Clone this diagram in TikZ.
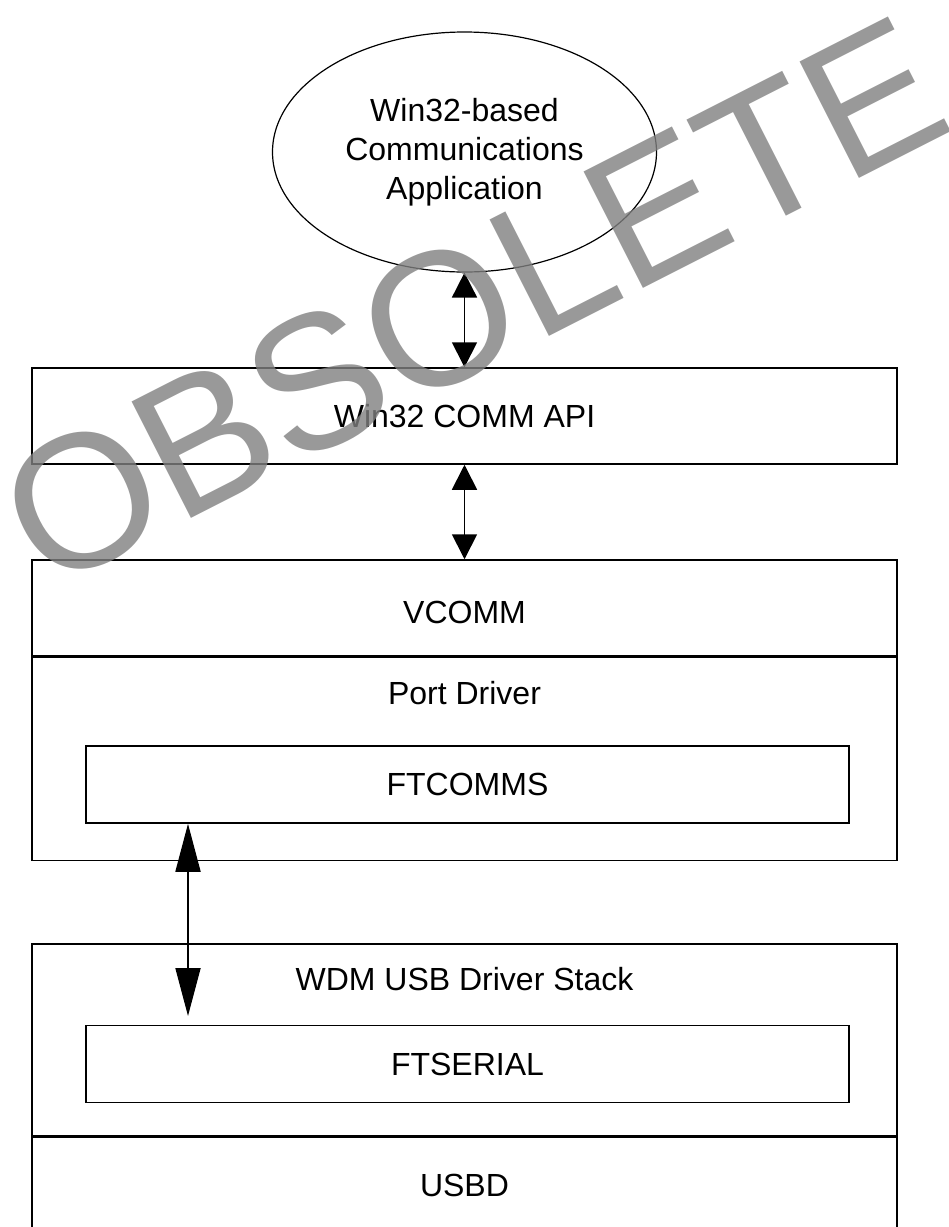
\documentclass[tikz,border=0pt]{standalone}
\usepackage{fontspec}
\setmainfont{Liberation Sans}
\usetikzlibrary{arrows.meta,positioning,shapes.geometric}

\tikzset{
  layer/.style={draw, line width=1.5pt, minimum width=865pt, inner sep=0pt, font=\fontsize{32}{39}\selectfont},
  inbox/.style={draw, line width=1.5pt, minimum width=763pt, minimum height=77pt, inner sep=0pt, font=\fontsize{32}{39}\selectfont},
  title/.style={inner sep=0pt, font=\fontsize{32}{39}\selectfont},
  link/.style={line width=1.8pt, {Triangle[length=25pt,width=25pt]}-{Triangle[length=25pt,width=25pt]}},
  longlink/.style={line width=1.8pt, {Triangle[length=48pt,width=25pt]}-{Triangle[length=48pt,width=25pt]}},
  watermark/.style={text=gray, text opacity=0.8, inner sep=0pt, font=\fontsize{190}{190}\selectfont}
}

\begin{document}
\begin{tikzpicture}[x=1pt,y=-1pt]
    \useasboundingbox (0,0) rectangle (949,1227);
    \node[draw, ellipse, line width=1.2pt, minimum width=384pt, minimum height=240pt, align=center, font=\fontsize{32}{39}\selectfont] (app) at (464.5,152) {Win32-based\\Communications\\Application};
    \node[layer, minimum height=96pt] (api) at (464.5,416) {Win32 COMM API};
    \node[layer, minimum height=96pt] (vcomm) at (464.5,608) {};
    \node[title, below=42pt of vcomm.north] (vcommtitle) {VCOMM};
    \node[layer, minimum height=203pt, below=0pt of vcomm] (port) {};
    \node[title, below=24pt of port.north] (porttitle) {Port Driver};
    \node[inbox] (ftcomms) at (467.5,784.5) {FTCOMMS};
    \node[layer, minimum height=192pt] (wdm) at (464.5,1040) {};
    \node[title, below=24pt of wdm.north] (wdmtitle) {WDM USB Driver Stack};
    \node[inbox] (ftserial) at (467.5,1064) {FTSERIAL};
    \node[layer, minimum height=96pt, below=0pt of wdm] (usbd) {USBD};
    \coordinate (stackend) at (188,1016);
    \draw[link] (app.south) -- (api.north);
    \draw[link] (api.south) -- (vcomm.north);
    \draw[longlink] (ftcomms.south -| stackend) -- (stackend);
    % watermark
    \node[watermark, anchor=base west, rotate=27] (obsolete) at (46,593) {OBSOLETE};
\end{tikzpicture}
\end{document}
